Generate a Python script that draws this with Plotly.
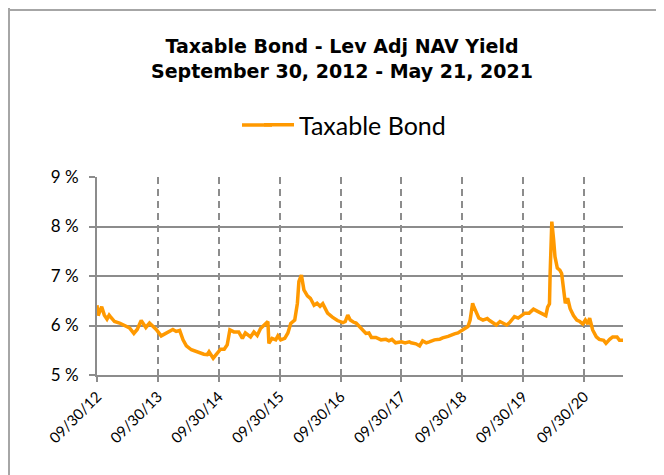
import plotly.graph_objects as go

dates = [
    "2012-09-30", "2012-10-07", "2012-10-28", "2012-11-13", "2012-11-29", "2012-12-12", "2012-12-19",
    "2013-01-13", "2013-02-12", "2013-03-14", "2013-04-13", "2013-05-09", "2013-05-29", "2013-06-22",
    "2013-07-12", "2013-07-20", "2013-08-11", "2013-08-22", "2013-09-20", "2013-10-20", "2013-11-19",
    "2013-12-08", "2013-12-29", "2014-01-18", "2014-02-08", "2014-02-28", "2014-03-20", "2014-04-19",
    "2014-05-28", "2014-07-03",
    "2014-07-23", "2014-08-03", "2014-08-28", "2014-09-22", "2014-10-11", "2014-11-02", "2014-11-20",
    "2014-12-06", "2014-12-30", "2015-01-28", "2015-02-19", "2015-03-09", "2015-04-09", "2015-04-29",
    "2015-05-19", "2015-06-08", "2015-06-28", "2015-07-22", "2015-07-28", "2015-08-16", "2015-09-07",
    "2015-09-20", "2015-10-07", "2015-10-31", "2015-11-19", "2015-12-06", "2015-12-30", "2016-01-15",
    "2016-01-24", "2016-02-08", "2016-02-23",
    "2016-03-15", "2016-04-02", "2016-04-24", "2016-05-12", "2016-05-30", "2016-06-15", "2016-06-28",
    "2016-07-14", "2016-08-12", "2016-09-11", "2016-10-14", "2016-10-28", "2016-11-12", "2016-11-27",
    "2016-12-15", "2017-01-01", "2017-01-21", "2017-02-11", "2017-03-01", "2017-03-19", "2017-04-03",
    "2017-04-30", "2017-05-31", "2017-06-29", "2017-07-17", "2017-08-04", "2017-08-26", "2017-09-30",
    "2017-10-22", "2017-11-16",
    "2017-11-27", "2017-12-26", "2018-01-17", "2018-02-04", "2018-02-26", "2018-03-16", "2018-04-16",
    "2018-05-17", "2018-06-04", "2018-07-07", "2018-07-25", "2018-08-14", "2018-09-04", "2018-09-24",
    "2018-10-14", "2018-11-03", "2018-11-16", "2018-12-01", "2018-12-08", "2018-12-23", "2019-01-07",
    "2019-02-01", "2019-02-27", "2019-03-13", "2019-04-04", "2019-04-22", "2019-05-14", "2019-06-01",
    "2019-06-23",
    "2019-07-11", "2019-08-09", "2019-08-31", "2019-09-20", "2019-10-10", "2019-11-05", "2019-12-01",
    "2019-12-23", "2020-01-18", "2020-02-13", "2020-02-24", "2020-03-06", "2020-03-10", "2020-03-20",
    "2020-03-31", "2020-04-08", "2020-04-22", "2020-05-07", "2020-05-18", "2020-06-09", "2020-06-23",
    "2020-07-08", "2020-07-28", "2020-08-17", "2020-09-04", "2020-09-22", "2020-10-07", "2020-10-22",
    "2020-11-02", "2020-11-20", "2020-12-12", "2020-12-30", "2021-01-25", "2021-02-08", "2021-03-02",
    "2021-03-20", "2021-04-15", "2021-04-30", "2021-05-21",
]

yields = [
    6.41, 6.20, 6.38, 6.21, 6.13, 6.21, 6.18,
    6.08, 6.05, 5.99, 5.95, 5.84, 5.92, 6.10,
    5.98, 5.96, 6.05, 6.02, 5.92, 5.79, 5.84,
    5.88, 5.92, 5.88, 5.90, 5.71, 5.59, 5.51,
    5.46, 5.42,
    5.41, 5.47, 5.34, 5.44, 5.52, 5.52, 5.61,
    5.91, 5.87, 5.87, 5.74, 5.85, 5.77, 5.87,
    5.80, 5.94, 6.01, 6.08, 5.64, 5.74, 5.71,
    5.79, 5.71, 5.74, 5.85, 6.04, 6.11, 6.45,
    6.89, 7.02, 6.72,
    6.60, 6.55, 6.41, 6.45, 6.39, 6.44, 6.36,
    6.25, 6.17, 6.10, 6.06, 6.08, 6.21, 6.11,
    6.07, 6.05, 5.98, 5.91, 5.84, 5.85, 5.76,
    5.76, 5.71, 5.72, 5.69, 5.72, 5.65, 5.67,
    5.65, 5.67,
    5.65, 5.63, 5.59, 5.69, 5.65, 5.67, 5.71,
    5.72, 5.75, 5.78, 5.81, 5.83, 5.85, 5.89,
    5.92, 5.98, 6.11, 6.45, 6.38, 6.25, 6.15,
    6.11, 6.14, 6.10, 6.05, 6.01, 6.08, 6.05,
    6.01,
    6.06, 6.18, 6.15, 6.20, 6.25, 6.25, 6.33,
    6.29, 6.25, 6.20, 6.37, 6.44, 7.05, 8.10,
    7.73, 7.39, 7.16, 7.12, 7.05, 6.45, 6.55,
    6.34, 6.20, 6.11, 6.08, 6.03, 6.11, 6.03,
    6.15, 5.91, 5.77, 5.72, 5.70, 5.64, 5.72,
    5.77, 5.77, 5.70, 5.70,
]

tick_dates = ["2012-09-30", "2013-09-30", "2014-09-30", "2015-09-30", "2016-09-30",
              "2017-09-30", "2018-09-30", "2019-09-30", "2020-09-30"]
tick_labels = ["09/30/12", "09/30/13", "09/30/14", "09/30/15", "09/30/16",
               "09/30/17", "09/30/18", "09/30/19", "09/30/20"]
y_ticks = [5, 6, 7, 8, 9]
y_labels = ["5 %", "6 %", "7 %", "8 %", "9 %"]

series_name = "Taxable Bond"
title_lines = ["Taxable Bond - Lev Adj NAV Yield", "September 30, 2012 - May 21, 2021"]

ORANGE = "#FF9900"
GRID = "#8C8C8C"
BORDER = "#A6A6A6"
LABEL_FONT = "Lato, Carlito, sans-serif"

# page offset of the figure (body margin)
OFF = 8
W, H = 664 - OFF, 475 - OFF
L = 97 - OFF
T = 177 - OFF
R = W - (623 - OFF)
B = H - (375 - OFF)
pw, ph = W - L - R, H - T - B


def px(xp):  # page x -> paper
    return (xp - OFF - L) / pw


def py(yp):  # page y -> paper
    return (H - B - (yp - OFF)) / ph


fig = go.Figure()
fig.add_trace(go.Scatter(
    x=dates, y=yields, mode="lines", name=series_name,
    line=dict(color=ORANGE, width=3.5),
))

fig.update_layout(
    width=W, height=H,
    margin=dict(l=L, r=R, t=T, b=B, pad=0),
    paper_bgcolor="white", plot_bgcolor="white",
    title=dict(
        text="<b>" + title_lines[0] + "<br>" + title_lines[1] + "</b>",
        x=(342 - OFF) / W, xanchor="center", xref="container",
        y=1 - (53 - OFF) / H, yanchor="middle", yref="container",
        font=dict(family="DejaVu Sans", size=19, color="black"),
    ),
    showlegend=True,
    legend=dict(
        orientation="h", x=px(259), y=py(125), xanchor="left", yanchor="middle",
        font=dict(family=LABEL_FONT, size=25, color="black"),
        bgcolor="rgba(0,0,0,0)",
    ),
    xaxis=dict(
        type="date",
        range=["2012-09-30", "2021-05-21"],
        tickvals=tick_dates, ticktext=tick_labels,
        tickangle=-45,
        ticks="outside", ticklen=5, tickwidth=2, tickcolor=GRID,
        showgrid=True, gridcolor=GRID, gridwidth=2, griddash="7px,5px",
        showline=True, linecolor=GRID, linewidth=2,
        zeroline=False,
        tickfont=dict(family=LABEL_FONT, size=15, color="black"),
    ),
    yaxis=dict(
        range=[5, 9],
        tickvals=y_ticks, ticktext=y_labels,
        ticks="outside", ticklen=6, tickwidth=2, tickcolor=GRID,
        showgrid=True, gridcolor=GRID, gridwidth=2,
        showline=True, linecolor=GRID, linewidth=2,
        zeroline=False,
        ticklabelstandoff=7,
        tickfont=dict(family=LABEL_FONT, size=17, color="black"),
    ),
    shapes=[
        # cell borders
        dict(type="line", xref="paper", yref="paper", x0=px(9), x1=px(9), y0=py(OFF), y1=py(475),
             line=dict(color=BORDER, width=2), layer="above"),
        dict(type="line", xref="paper", yref="paper", x0=px(OFF), x1=px(664), y0=py(10), y1=py(10),
             line=dict(color=BORDER, width=2), layer="above"),
        # legend key extension to match the longer key line
        dict(type="line", xref="paper", yref="paper", x0=px(242), x1=px(272), y0=py(125), y1=py(125),
             line=dict(color=ORANGE, width=3.5), layer="above"),
    ],
)

fig.write_html("out.html")
